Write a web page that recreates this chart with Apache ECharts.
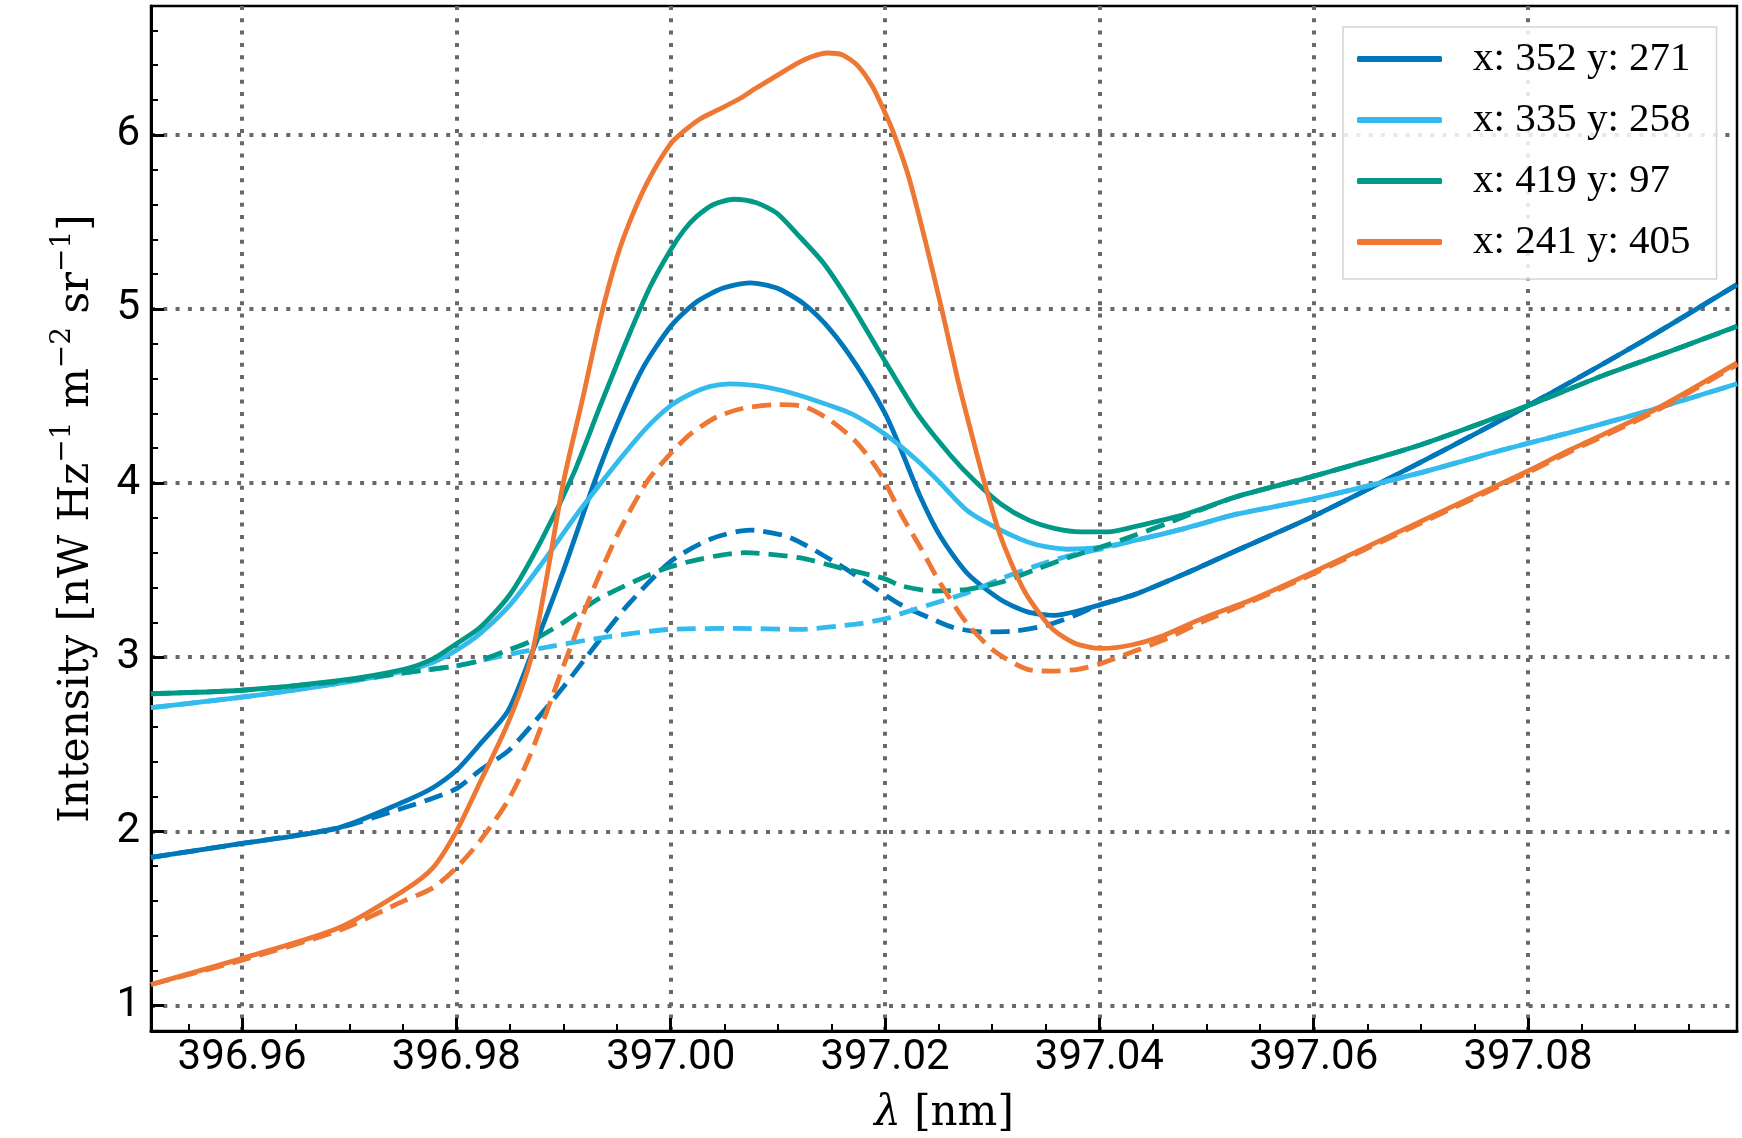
<!DOCTYPE html>
<html>
<head>
<meta charset="utf-8">
<script src="https://cdn.jsdelivr.net/npm/echarts@6/dist/echarts.min.js"></script>
<style>
  html, body { margin: 0; padding: 0; background: #fff; }
  #chart { width: 1742px; height: 1138px; }
</style>
</head>
<body>
<div id="chart"></div>
<script>
// pixel labels of the four spectra
var legendNames = ['x: 352 y: 271', 'x: 335 y: 258', 'x: 419 y: 97', 'x: 241 y: 405'];
var colors = ['#0077bb', '#33bbee', '#009988', '#ee7733'];

var xMin = 396.9515, xMax = 397.0995;
var yMin = 0.853, yMax = 6.74;

// observed (solid) and fitted (dashed) profiles: [wavelength nm, intensity]
var blueObs = [
  [396.9515, 1.85], [396.96, 1.93], [396.969, 2.02], [396.9751, 2.17], [396.9778, 2.25],
  [396.98, 2.35], [396.9822, 2.50], [396.9848, 2.69], [396.9869, 3.0], [396.990, 3.50],
  [396.9929, 4.01], [396.995, 4.34], [396.9974, 4.66], [397.0, 4.90], [397.0024, 5.04],
  [397.0049, 5.12], [397.0074, 5.15], [397.0099, 5.12], [397.0124, 5.03], [397.0149, 4.88],
  [397.0174, 4.67], [397.02, 4.40], [397.0215, 4.19], [397.0233, 3.92], [397.0252, 3.69],
  [397.0277, 3.48], [397.0308, 3.33], [397.0333, 3.26], [397.0358, 3.24], [397.0383, 3.27],
  [397.04, 3.30], [397.0433, 3.36], [397.048, 3.48], [397.0527, 3.61], [397.06, 3.81],
  [397.07, 4.12], [397.08, 4.445], [397.09, 4.79], [397.0995, 5.14]
];
var blueFit = [
  [396.9515, 1.85], [396.96, 1.93], [396.969, 2.02], [396.9751, 2.135], [396.9778, 2.19],
  [396.98, 2.245], [396.9822, 2.35], [396.9848, 2.46], [396.9869, 2.60], [396.990, 2.83],
  [396.993, 3.07], [396.996, 3.30], [397.0, 3.55], [397.0038, 3.68], [397.0074, 3.73],
  [397.011, 3.69], [397.0152, 3.55], [397.018, 3.44], [397.0215, 3.30], [397.024, 3.23],
  [397.0264, 3.17], [397.0292, 3.145], [397.032, 3.15], [397.0349, 3.18], [397.0377, 3.24],
  [397.04, 3.30], [397.0433, 3.36], [397.048, 3.48], [397.0527, 3.61], [397.06, 3.81],
  [397.07, 4.12], [397.08, 4.445], [397.09, 4.79], [397.0995, 5.14]
];
var cyanObs = [
  [396.9515, 2.71], [396.96, 2.77], [396.969, 2.85], [396.9751, 2.92], [396.9778, 2.97],
  [396.98, 3.04], [396.9822, 3.135], [396.985, 3.30], [396.988, 3.54], [396.991, 3.80],
  [396.994, 4.04], [396.9965, 4.23], [396.9981, 4.34], [397.0, 4.445], [397.0018, 4.51],
  [397.0037, 4.555], [397.0055, 4.57], [397.008, 4.56], [397.0105, 4.53], [397.0137, 4.47],
  [397.0168, 4.40], [397.02, 4.28], [397.023, 4.13], [397.025, 4.01], [397.0277, 3.84],
  [397.0308, 3.73], [397.0339, 3.65], [397.037, 3.62], [397.04, 3.63], [397.0433, 3.67],
  [397.048, 3.74], [397.0527, 3.82], [397.06, 3.91], [397.07, 4.06], [397.0776, 4.19],
  [397.0839, 4.29], [397.0915, 4.42], [397.0995, 4.57]
];
var cyanFit = [
  [396.9515, 2.71], [396.96, 2.77], [396.969, 2.85], [396.9751, 2.91], [396.98, 2.95],
  [396.9822, 2.98], [396.9869, 3.04], [396.9944, 3.12], [397.0, 3.16], [397.006, 3.165],
  [397.012, 3.16], [397.0173, 3.19], [397.02, 3.22], [397.0215, 3.25], [397.0246, 3.31],
  [397.0277, 3.37], [397.0308, 3.45], [397.0339, 3.52], [397.037, 3.58], [397.04, 3.62],
  [397.0433, 3.67], [397.048, 3.74], [397.0527, 3.82], [397.06, 3.91], [397.07, 4.06],
  [397.0776, 4.19], [397.0839, 4.29], [397.0915, 4.42], [397.0995, 4.57]
];
var tealObs = [
  [396.9515, 2.79], [396.96, 2.81], [396.969, 2.865], [396.9751, 2.93], [396.9778, 2.99],
  [396.98, 3.077], [396.9822, 3.17], [396.985, 3.36], [396.988, 3.68], [396.9909, 4.05],
  [396.9934, 4.44], [396.9959, 4.82], [396.9981, 5.13], [397.0, 5.34], [397.0012, 5.45],
  [397.0024, 5.53], [397.004, 5.60], [397.0059, 5.63], [397.008, 5.61], [397.0099, 5.55],
  [397.0118, 5.43], [397.0143, 5.26], [397.0168, 5.03], [397.02, 4.70], [397.023, 4.40],
  [397.0261, 4.16], [397.0284, 4.01], [397.0308, 3.88], [397.0333, 3.79], [397.0358, 3.74],
  [397.0383, 3.72], [397.0408, 3.72], [397.0433, 3.75], [397.048, 3.82], [397.0527, 3.92],
  [397.06, 4.04], [397.07, 4.22], [397.08, 4.445], [397.0871, 4.62], [397.0934, 4.76],
  [397.0995, 4.90]
];
var tealFit = [
  [396.9515, 2.79], [396.96, 2.81], [396.969, 2.86], [396.9751, 2.91], [396.98, 2.95],
  [396.9822, 2.98], [396.9848, 3.04], [396.9869, 3.09], [396.990, 3.20], [396.9934, 3.34],
  [397.0, 3.52], [397.0069, 3.60], [397.0121, 3.57], [397.016, 3.51], [397.02, 3.45],
  [397.0215, 3.41], [397.0246, 3.38], [397.0277, 3.39], [397.0308, 3.43], [397.0339, 3.50],
  [397.037, 3.57], [397.04, 3.63], [397.0433, 3.70], [397.0464, 3.77], [397.048, 3.81],
  [397.0527, 3.92], [397.06, 4.04], [397.07, 4.22], [397.08, 4.445], [397.0871, 4.62],
  [397.0934, 4.76], [397.0995, 4.90]
];
var orangeObs = [
  [396.9515, 1.12], [396.96, 1.27], [396.969, 1.445], [396.9751, 1.66], [396.9778, 1.79],
  [396.98, 2.00], [396.9822, 2.28], [396.9848, 2.62], [396.9869, 2.98], [396.9884, 3.45],
  [396.99, 4.01], [396.9918, 4.49], [396.9934, 4.935], [396.995, 5.30], [396.9965, 5.55],
  [396.9981, 5.76], [397.0, 5.95], [397.0012, 6.02], [397.0027, 6.09], [397.0043, 6.14],
  [397.0065, 6.21], [397.008, 6.27], [397.0099, 6.34], [397.0118, 6.41], [397.0132, 6.45],
  [397.0146, 6.47], [397.016, 6.46], [397.0174, 6.40], [397.0188, 6.28], [397.0199, 6.14],
  [397.0208, 6.01], [397.0222, 5.76], [397.0238, 5.38], [397.0254, 4.97], [397.0268, 4.59],
  [397.028, 4.30], [397.0292, 4.02], [397.0308, 3.69], [397.033, 3.38], [397.0355, 3.17],
  [397.0377, 3.08], [397.0402, 3.05], [397.043, 3.07], [397.0458, 3.12], [397.0495, 3.22],
  [397.0542, 3.33], [397.06, 3.49], [397.07, 3.78], [397.08, 4.07], [397.0839, 4.19],
  [397.0915, 4.41], [397.0995, 4.69]
];
var orangeFit = [
  [396.9515, 1.12], [396.96, 1.26], [396.969, 1.43], [396.9751, 1.60], [396.9778, 1.675],
  [396.98, 1.79], [396.9822, 1.945], [396.9848, 2.175], [396.9869, 2.44], [396.9903, 3.0],
  [396.9925, 3.35], [396.995, 3.70], [396.9978, 4.01], [397.0, 4.17], [397.0018, 4.28],
  [397.0043, 4.38], [397.0068, 4.43], [397.0099, 4.45], [397.0124, 4.44], [397.0149, 4.36],
  [397.0174, 4.23], [397.0196, 4.05], [397.0215, 3.82], [397.0233, 3.63], [397.0252, 3.42],
  [397.0277, 3.19], [397.0302, 3.035], [397.0333, 2.93], [397.0355, 2.92], [397.038, 2.93],
  [397.04, 2.96], [397.0433, 3.035], [397.0464, 3.11], [397.0495, 3.20], [397.0542, 3.32],
  [397.06, 3.48], [397.07, 3.77], [397.08, 4.06], [397.0839, 4.18], [397.0915, 4.40],
  [397.0995, 4.68]
];

// minor tick positions (between the major ones)
function minorValues(min, max, step, every) {
  var out = [];
  for (var k = Math.ceil(min / step - 1e-9); k * step <= max + 1e-9; k++) {
    if (k % every !== 0) out.push(+(k * step).toFixed(4));
  }
  return out;
}
var xMinor = minorValues(xMin, xMax, 0.005, 4);
var yMinor = minorValues(yMin, yMax, 0.2, 5);

var black = '#000';
var serif = 'DejaVu Serif';
var gridLine = { color: '#686868', width: 4, type: [4, 8.3] };

function obsSeries(name, color, data) {
  return {
    name: name, type: 'line', data: data, symbol: 'none', showSymbol: false,
    smooth: 0.25, z: 3,
    lineStyle: { color: color, width: 4.8 },
    itemStyle: { color: color }
  };
}
function fitSeries(name, color, data) {
  return {
    name: name, type: 'line', data: data, symbol: 'none', showSymbol: false,
    smooth: 0.25, z: 3,
    lineStyle: { color: color, width: 4.8, type: [19, 9] },
    itemStyle: { color: color }
  };
}

var chart = echarts.init(document.getElementById('chart'), null, { renderer: 'canvas' });
chart.setOption({
  animation: false,
  backgroundColor: '#fff',
  grid: {
    left: 151, top: 6, right: 5, bottom: 107,
    show: true, borderColor: black, borderWidth: 2.5,
    containLabel: false, outerBoundsMode: 'none'
  },
  legend: {
    data: legendNames,
    orient: 'vertical',
    left: 1343, top: 27,
    padding: [9, 26, 14, 14],
    icon: 'roundRect',
    itemWidth: 85, itemHeight: 6, itemGap: 15,
    backgroundColor: 'rgba(255,255,255,0.85)',
    borderColor: '#d4d4d4', borderWidth: 1.5, borderRadius: 0,
    textStyle: {
      fontFamily: 'Liberation Serif', fontSize: 41, color: black,
      lineHeight: 46, padding: [0, 0, 0, 26]
    }
  },
  xAxis: [{
    type: 'value', position: 'bottom', offset: 0,
    min: xMin, max: xMax, minInterval: 0.02, maxInterval: 0.02, splitNumber: 7,
    axisLine: { show: true, onZero: false, lineStyle: { color: black, width: 3 } },
    axisTick: { show: true, inside: true, length: 13, lineStyle: { color: black, width: 3 } },
    axisLabel: {
      margin: 6, color: black, fontFamily: 'Roboto', fontSize: 42,
      showMinLabel: false, showMaxLabel: false,
      formatter: function (v) { return v.toFixed(2); }
    },
    splitLine: { show: true, showMinLine: false, showMaxLine: false, lineStyle: gridLine },
    name: '{i|λ} [nm]', nameLocation: 'middle', nameGap: 59, nameMoveOverlap: false,
    nameTextStyle: {
      fontFamily: serif, fontSize: 42, color: black, lineHeight: 48,
      rich: { i: { fontFamily: serif, fontSize: 42, fontStyle: 'italic', color: black, lineHeight: 48 } }
    }
  }, {
    type: 'value', position: 'bottom', offset: 0,
    min: xMin, max: xMax,
    axisLine: { show: false },
    axisLabel: { show: false },
    splitLine: { show: false },
    axisTick: { show: true, inside: true, length: 7, customValues: xMinor, lineStyle: { color: black, width: 2 } }
  }],
  yAxis: [{
    type: 'value', position: 'left', offset: 0,
    min: yMin, max: yMax, minInterval: 1, maxInterval: 1,
    axisLine: { show: true, onZero: false, lineStyle: { color: black, width: 3 } },
    axisTick: { show: true, inside: true, length: 13, lineStyle: { color: black, width: 3 } },
    axisLabel: {
      margin: 11, color: black, fontFamily: 'Roboto', fontSize: 42,
      showMinLabel: false, showMaxLabel: false
    },
    splitLine: { show: true, showMinLine: false, showMaxLine: false, lineStyle: gridLine },
    name: 'Intensity [nW Hz{s|−1} m{s|−2} sr{s|−1}]',
    nameLocation: 'middle', nameRotate: 90, nameGap: 46, nameMoveOverlap: false,
    nameTextStyle: {
      fontFamily: serif, fontSize: 42, color: black, lineHeight: 56,
      rich: { s: { fontFamily: serif, fontSize: 28, lineHeight: 28, verticalAlign: 'top', color: black } }
    }
  }, {
    type: 'value', position: 'left', offset: 0,
    min: yMin, max: yMax,
    axisLine: { show: false },
    axisLabel: { show: false },
    splitLine: { show: false },
    axisTick: { show: true, inside: true, length: 7, customValues: yMinor, lineStyle: { color: black, width: 2 } }
  }],
  series: [
    obsSeries(legendNames[0], colors[0], blueObs),
    fitSeries('fit 352 271', colors[0], blueFit),
    obsSeries(legendNames[1], colors[1], cyanObs),
    fitSeries('fit 335 258', colors[1], cyanFit),
    obsSeries(legendNames[2], colors[2], tealObs),
    fitSeries('fit 419 97', colors[2], tealFit),
    obsSeries(legendNames[3], colors[3], orangeObs),
    fitSeries('fit 241 405', colors[3], orangeFit)
  ]
});
</script>
</body>
</html>
